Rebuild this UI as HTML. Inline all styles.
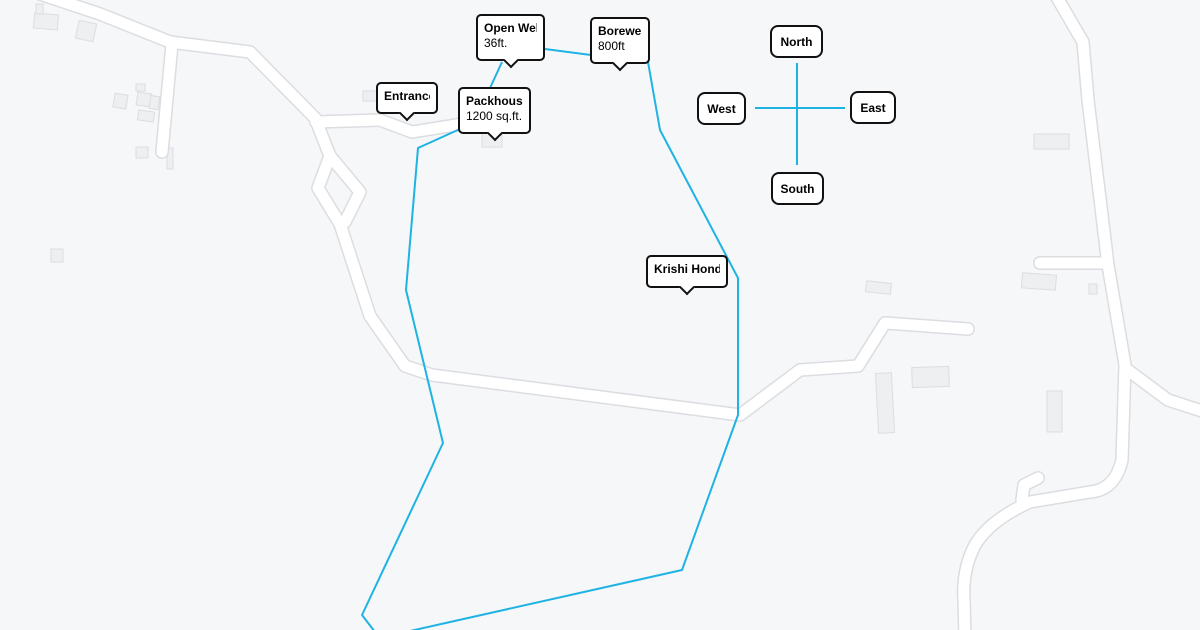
<!DOCTYPE html>
<html><head><meta charset="utf-8"><style>
html,body{margin:0;padding:0;background:#f6f7f9;}
body{width:1200px;height:630px;position:relative;overflow:hidden;font-family:"Liberation Sans",Arial,sans-serif;}
.c{position:absolute;background:#fff;border:2px solid #111;border-radius:5px;box-sizing:border-box;font-size:12px;line-height:15px;padding:5px 6px;overflow:visible;white-space:nowrap;}
.c .t{overflow:hidden;}
.c b{font-weight:bold;}
.c:after{content:"";position:absolute;left:50%;bottom:-9px;width:9px;height:9px;background:#fff;border-right:2px solid #111;border-bottom:2px solid #111;transform:translateX(-50%) rotate(45deg);margin-bottom:2px;}
.d{position:absolute;background:#fff;border:2px solid #111;border-radius:8px;box-sizing:border-box;font-size:12px;font-weight:bold;display:flex;align-items:center;justify-content:center;}
</style></head><body>
<svg width="1200" height="630" style="position:absolute;left:0;top:0">
<g fill="#eeeff1" stroke="#dcdde1" stroke-width="1">
<rect x="34" y="14" width="24" height="15" transform="rotate(5 46 21)"/>
<rect x="36" y="4" width="7" height="10"/>
<rect x="77" y="22" width="18" height="18" transform="rotate(12 86 31)"/>
<rect x="114" y="94" width="13" height="14" transform="rotate(10 120 101)"/>
<rect x="136" y="84" width="9" height="7"/>
<rect x="137" y="93" width="14" height="13" transform="rotate(8 144 99)"/>
<rect x="150" y="96" width="9" height="13" transform="rotate(8 154 102)"/>
<rect x="138" y="111" width="16" height="10" transform="rotate(8 146 116)"/>
<rect x="136" y="147" width="12" height="11"/>
<rect x="167" y="148" width="6" height="21"/>
<rect x="51" y="249" width="12" height="13"/>
<rect x="363" y="91" width="14" height="10"/>
<rect x="482" y="133" width="20" height="14"/>
<rect x="866" y="282" width="25" height="11" transform="rotate(6 878 287)"/>
<rect x="877" y="373" width="16" height="60" transform="rotate(-3 885 403)"/>
<rect x="912" y="367" width="37" height="20" transform="rotate(-2 930 377)"/>
<rect x="1034" y="134" width="35" height="15"/>
<rect x="1022" y="274" width="34" height="15" transform="rotate(4 1039 281)"/>
<rect x="1089" y="284" width="8" height="10"/>
<rect x="1047" y="391" width="15" height="41"/>
</g>
<g fill="none" stroke-linecap="round" stroke-linejoin="round">
<g stroke="#dcdde1" stroke-width="14">
<path d="M40,-6 L100,14 L170,42 L250,52 L315,118 L330,156 L318,188 L340,224 L370,316 L405,366 L432,375 L740,415 L800,370 L858,366 L885,323 L968,329"/>
<path d="M172,44 L162,152"/>
<path d="M316,122 L380,120 L412,132 L462,124"/>
<path d="M330,156 L360,192 L345,222"/>
<path d="M1055,-6 L1083,42 L1088,100 L1108,265 L1125,365 L1122,460 Q1115,490 1090,492 L1030,502 Q990,520 975,545 Q962,570 964,600 L965,636"/>
<path d="M1040,263 L1106,263"/>
<path d="M1125,368 L1168,400 L1205,412"/>
<path d="M1022,500 L1024,485 L1038,478"/>
</g>
<g stroke="#ffffff" stroke-width="11">
<path d="M40,-6 L100,14 L170,42 L250,52 L315,118 L330,156 L318,188 L340,224 L370,316 L405,366 L432,375 L740,415 L800,370 L858,366 L885,323 L968,329"/>
<path d="M172,44 L162,152"/>
<path d="M316,122 L380,120 L412,132 L462,124"/>
<path d="M330,156 L360,192 L345,222"/>
<path d="M1055,-6 L1083,42 L1088,100 L1108,265 L1125,365 L1122,460 Q1115,490 1090,492 L1030,502 Q990,520 975,545 Q962,570 964,600 L965,636"/>
<path d="M1040,263 L1106,263"/>
<path d="M1125,368 L1168,400 L1205,412"/>
<path d="M1022,500 L1024,485 L1038,478"/>
</g>
<g stroke="#1fb3e3" stroke-width="2" stroke-linecap="butt">
<path d="M460,129 L418,148 L406,290 L443,443 L362,615 L375,632"/>
<path d="M410,631 L682,570 L738,415 L738,278 L660,130 L648,62"/>
<path d="M490,88 L502,62"/>
<path d="M545,49 L591,55"/>
<path d="M797,63 L797,165 M755,108 L845,108"/>
</g>
</g>
</svg>
<div class="c" style="left:376px;top:82px;width:62px;height:32px"><div class="t"><b>Entrance</b></div></div>
<div class="c" style="left:476px;top:14px;width:69px;height:47px"><div class="t"><b>Open Well</b><br>36ft.</div></div>
<div class="c" style="left:590px;top:17px;width:60px;height:47px"><div class="t"><b>Borewell</b><br>800ft</div></div>
<div class="c" style="left:458px;top:87px;width:73px;height:47px"><div class="t"><b>Packhouse</b><br>1200 sq.ft.</div></div>
<div class="c" style="left:646px;top:255px;width:82px;height:33px"><div class="t"><b>Krishi Hond</b></div></div>
<div class="d" style="left:770px;top:25px;width:53px;height:33px">North</div>
<div class="d" style="left:697px;top:92px;width:49px;height:33px">West</div>
<div class="d" style="left:850px;top:91px;width:46px;height:33px">East</div>
<div class="d" style="left:771px;top:172px;width:53px;height:33px">South</div>
</body></html>
